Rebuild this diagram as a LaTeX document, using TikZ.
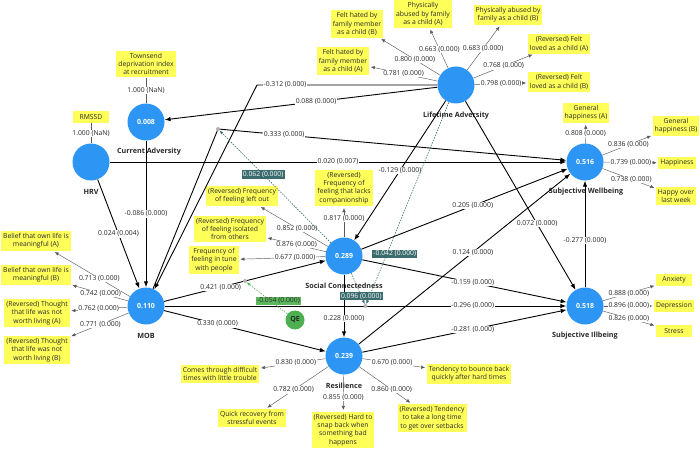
\documentclass[tikz,border=0pt]{standalone}
\usepackage{fontspec}
\setmainfont{Open Sans}
\usetikzlibrary{arrows.meta}
\definecolor{lvblue}{RGB}{45,150,245}
\definecolor{indyellow}{RGB}{255,255,90}
\definecolor{modteal}{RGB}{58,108,110}
\definecolor{modgreen}{RGB}{92,184,92}
\definecolor{qegreen}{RGB}{76,175,80}
\definecolor{txtgrey}{RGB}{40,40,40}
\definecolor{loadgrey}{RGB}{90,90,90}

\tikzset{
  lv/.style={circle, fill=lvblue, minimum size=37pt, inner sep=0pt, text=white,
    font=\fontsize{7}{8}\selectfont\bfseries},
  qe/.style={circle, fill=qegreen, minimum size=19pt, inner sep=0pt, text=txtgrey,
    font=\fontsize{7}{8}\selectfont\bfseries},
  lvname/.style={text=txtgrey, font=\fontsize{7.2}{8}\selectfont\bfseries},
  ind/.style={fill=indyellow, align=center, inner xsep=2pt, inner ysep=2.5pt,
    text=txtgrey, font=\fontsize{6.8}{8.3}\selectfont},
  ind1/.style={ind, minimum width=36pt, minimum height=12pt, inner ysep=1pt},
  coef/.style={fill=white, inner sep=0.6pt, text=txtgrey, font=\fontsize{6.8}{8}\selectfont},
  modlbl/.style={fill=modteal, inner sep=1.3pt, text=white, font=\fontsize{6.8}{8}\selectfont},
  modglbl/.style={fill=modgreen, inner sep=1.3pt, text=txtgrey, font=\fontsize{6.8}{8}\selectfont},
  load/.style={draw=loadgrey, line width=0.45pt, -{Latex[length=4pt,width=3.5pt]}, shorten >=1.5pt},
  single/.style={draw=loadgrey, line width=0.45pt},
  spath/.style={draw=black, line width=0.9pt, -{Latex[length=6pt,width=4.5pt]}},
  modline/.style={draw=modteal, dash pattern=on 1.5pt off 1.2pt, line width=0.6pt,
    -{Latex[length=4pt,width=3pt]}, shorten >=2pt},
  modgline/.style={modline, draw=modgreen},
  moddot/.style={circle, fill=gray!60, inner sep=0pt, minimum size=4pt},
}

\begin{document}
\begin{tikzpicture}[x=1pt,y=-1pt]
\useasboundingbox (0,0) rectangle (700,449);

% ---------- latent variables ----------
\node[lv] (CA)  at (146,122) {0.008};
\node[lv] (HRV) at (91,162)  {};
\node[lv] (MOB) at (146,306) {0.110};
\node[lv] (LA)  at (456,85)  {};
\node[lv] (SW)  at (585,162) {0.516};
\node[lv] (SI)  at (585,306) {0.518};
\node[lv] (SC)  at (344,256) {0.289};
\node[lv] (RES) at (344,356) {0.239};
\node[qe] (QE)  at (295,320) {QE};

\node[lvname] (CAn)  at (149,152) {Current Adversity};
\node[lvname] (HRVn) at (91,192)  {HRV};
\node[lvname] (MOBn) at (146,336) {MOB};
\node[lvname] (LAn)  at (456,116) {Lifetime Adversity};
\node[lvname] (SWn)  at (586,192) {Subjective Wellbeing};
\node[lvname] (SIn)  at (585,336) {Subjective Illbeing};
\node[lvname] (SCn)  at (344,286) {Social Connectedness};
\node[lvname] (RESn) at (344,386) {Resilience};

% ---------- indicators ----------
\node[ind]  (tdi)   at (146,64)  {Townsend\\deprivation index\\at recruitment};
\node[ind1] (rmssd) at (91,117)  {RMSSD};

\node[ind] (lfhB) at (357,24) {Felt hated by\\family member\\as a child (B)};
\node[ind] (lfhA) at (343,61) {Felt hated by\\family member\\as a child (A)};
\node[ind] (lpaA) at (423,14) {Physically\\abused by family\\as a child (A)};
\node[ind] (lpaB) at (508,15) {Physically abused by\\family as a child (B)};
\node[ind] (lrlA) at (559,44) {(Reversed) Felt\\loved as a child (A)};
\node[ind] (lrlB) at (559,82) {(Reversed) Felt\\loved as a child (B)};

\node[ind]  (sgA) at (586,113) {General\\happiness (A)};
\node[ind]  (sgB) at (676,126) {General\\happiness (B)};
\node[ind1] (shp) at (677,163) {Happiness};
\node[ind]  (shw) at (676,196) {Happy over\\last week};

\node[ind1] (ianx) at (674,280) {Anxiety};
\node[ind1] (idep) at (674,306) {Depression};
\node[ind1] (istr) at (674,331) {Stress};

\node[ind] (scC) at (344,188) {(Reversed)\\Frequency of\\feeling that lacks\\companionship};
\node[ind] (scL) at (242,196) {(Reversed) Frequency\\of feeling left out};
\node[ind] (scI) at (230,229) {(Reversed) Frequency\\of feeling isolated\\from others};
\node[ind] (scT) at (214,260) {Frequency of\\feeling in tune\\with people};

\node[ind] (mbA) at (36,241) {Belief that own life is\\meaningful (A)};
\node[ind] (mbB) at (36,275) {Belief that own life is\\meaningful (B)};
\node[ind] (mtA) at (37,313) {(Reversed) Thought\\that life was not\\worth living (A)};
\node[ind] (mtB) at (37,350) {(Reversed) Thought\\that life was not\\worth living (B)};

\node[ind] (rcome)   at (220,374) {Comes through difficult\\times with little trouble};
\node[ind] (rquick)  at (252,418) {Quick recovery from\\stressful events};
\node[ind] (rsnap)   at (343,430) {(Reversed) Hard to\\snap back when\\something bad\\happens};
\node[ind] (rbounce) at (469,374) {Tendency to bounce back\\quickly after hard times};
\node[ind] (rlong)   at (432,418) {(Reversed) Tendency\\to take a long time\\to get over setbacks};

% ---------- outer loadings ----------
\draw[single] (CA)  -- node[coef]{1.000 (NaN)} (tdi);
\draw[single] (HRV) -- node[coef]{1.000 (NaN)} (rmssd);

\draw[load] (LA) -- node[coef,pos=0.42]{0.800 (0.000)} (lfhB);
\draw[load] (LA) -- node[coef,pos=0.5]{0.781 (0.000)} (lfhA);
\draw[load] (LA) -- node[coef,pos=0.47]{0.663 (0.000)} (lpaA);
\draw[load] (LA) -- node[coef,pos=0.48]{0.683 (0.000)} (lpaB);
\draw[load] (LA) -- node[coef,pos=0.5]{0.768 (0.000)} (lrlA);
\draw[load] (LA) -- node[coef,pos=0.5]{0.798 (0.000)} (lrlB);

\draw[load] (SW) -- node[coef]{0.808 (0.000)} (sgA);
\draw[load] (SW) -- node[coef,pos=0.52]{0.836 (0.000)} (sgB);
\draw[load] (SW) -- node[coef,pos=0.5]{0.739 (0.000)} (shp);
\draw[load] (SW) -- node[coef,pos=0.54]{0.738 (0.000)} (shw);

\draw[load] (SI) -- node[coef,pos=0.49]{0.888 (0.000)} (ianx);
\draw[load] (SI) -- node[coef,pos=0.5]{0.896 (0.000)} (idep);
\draw[load] (SI) -- node[coef,pos=0.49]{0.826 (0.000)} (istr);

\draw[load] (SC) -- node[coef,pos=0.62]{0.817 (0.000)} (scC);
\draw[load] (SC) -- node[coef,pos=0.45]{0.852 (0.000)} (scL);
\draw[load] (SC) -- node[coef,pos=0.49]{0.876 (0.000)} (scI);
\draw[load] (SC) -- node[coef,pos=0.35]{0.677 (0.000)} (scT);

\draw[load] (MOB) -- node[coef,pos=0.4]{0.713 (0.000)} (mbA);
\draw[load] (MOB) -- node[coef,pos=0.48]{0.742 (0.000)} (mbB);
\draw[load] (MOB) -- node[coef,pos=0.5]{0.762 (0.000)} (mtA);
\draw[load] (MOB) -- node[coef,pos=0.48]{0.771 (0.000)} (mtB);

\draw[load] (RES) -- node[coef,pos=0.45]{0.830 (0.000)} (rcome);
\draw[load] (RES) -- node[coef,pos=0.56]{0.782 (0.000)} (rquick);
\draw[load] (RES) -- node[coef,pos=0.62]{0.855 (0.000)} (rsnap);
\draw[load] (RES) -- node[coef,pos=0.46]{0.670 (0.000)} (rbounce);
\draw[load] (RES) -- node[coef,pos=0.62]{0.860 (0.000)} (rlong);

% ---------- bend points and interaction points ----------
\coordinate (bLA) at (257,85);
\coordinate (cSW) at (218,129);
\path (MOB) -- coordinate[pos=0.5] (cSC) (SC);
\path (MOB) -- coordinate[pos=0.5] (cSI) (SI);

% ---------- structural paths ----------
\draw[spath] (LA) -- node[coef,pos=0.445]{0.088 (0.000)} (CA);
\draw[spath] (LA) -- node[coef,pos=0.845]{-0.312 (0.000)} (bLA) -- (MOB);
\draw[spath] (CA) -- node[coef,pos=0.5]{-0.086 (0.000)} (MOB);
\draw[spath] (HRV) -- node[coef,pos=0.5]{0.024 (0.004)} (MOB);
\draw[spath] (HRV) -- node[coef,pos=0.5]{0.020 (0.007)} (SW);
\draw[spath] (MOB) -- (cSW) -- node[coef,pos=0.19]{0.333 (0.000)} (SW);
\draw[spath] (MOB) -- node[coef,pos=0.35]{0.421 (0.000)} (SC);
\draw[spath] (MOB) -- node[coef,pos=0.767]{-0.296 (0.000)} (SI);
\draw[spath] (MOB) -- node[coef,pos=0.33]{0.330 (0.000)} (RES);
\draw[spath] (LA) -- node[coef,pos=0.5]{-0.129 (0.000)} (SC);
\draw[spath] (LA) -- node[coef,pos=0.65]{0.072 (0.000)} (SI);
\draw[spath] (SC) -- node[coef,pos=0.54]{0.205 (0.000)} (SW);
\draw[spath] (SC) -- node[coef,pos=0.54]{-0.159 (0.000)} (SI);
\draw[spath] (SC) -- node[coef,pos=0.7]{0.228 (0.000)} (RES);
\draw[spath] (RES) -- node[coef,pos=0.54]{0.124 (0.000)} (SW);
\draw[spath] (RES) -- node[coef,pos=0.54]{-0.281 (0.000)} (SI);
\draw[spath] (SI) -- node[coef,pos=0.44]{-0.277 (0.000)} (SW);

% ---------- moderating effects ----------
\draw[modline] (SC) -- node[modlbl,pos=0.6]{0.062 (0.000)} (cSW);
\draw[modline] (LA) -- node[modlbl,pos=0.745,xshift=8pt]{-0.042 (0.000)} (cSI);
\draw[modline] (SC) -- node[modlbl,pos=0.7]{0.096 (0.000)} (cSI);
\draw[modgline] (QE) -- node[modglbl,pos=0.4,xshift=8pt]{-0.054 (0.000)} (cSC);

\node[moddot] (dSW) at (cSW) {};
\node[moddot] (dSI) at (cSI) {};
\node[moddot] (dSC) at (cSC) {};
\end{tikzpicture}
\end{document}
